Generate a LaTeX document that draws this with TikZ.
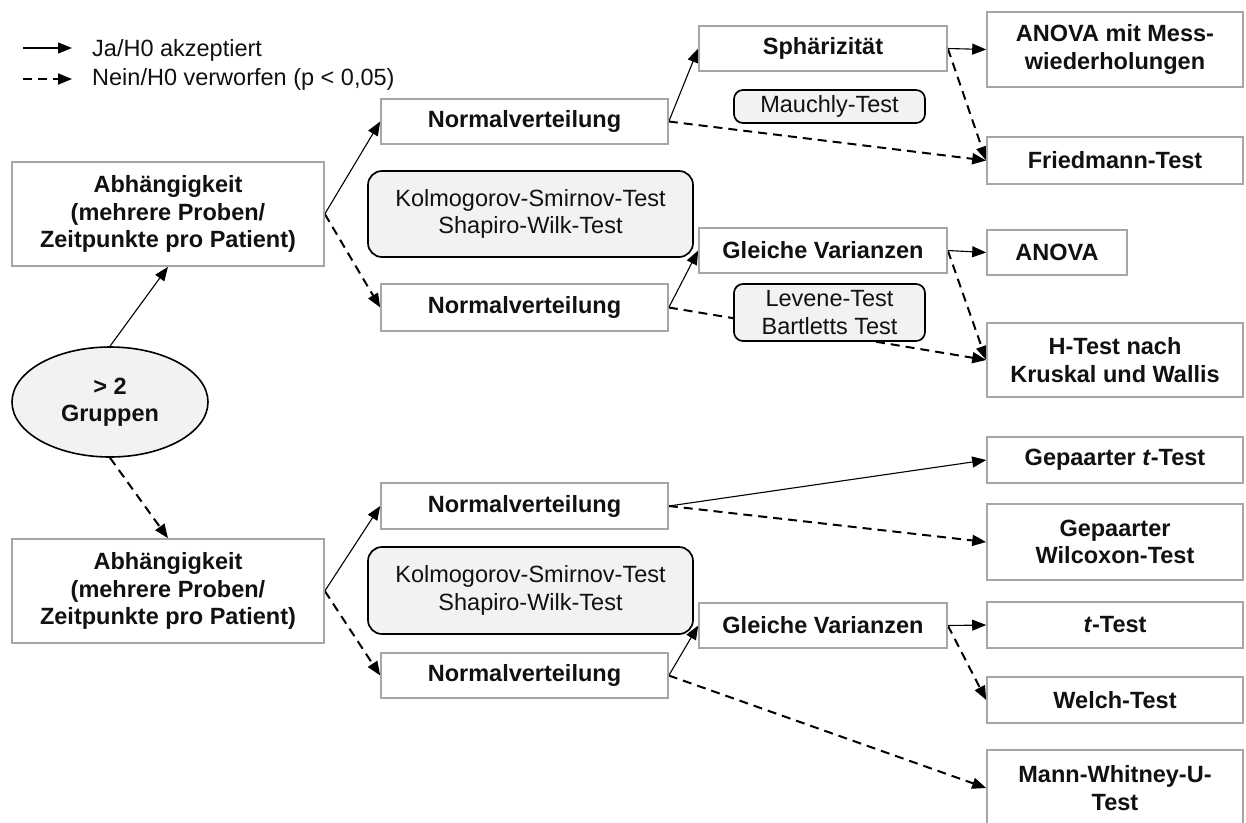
\documentclass[tikz,border=0pt]{standalone}
\usepackage{fontspec}
\setmainfont{Liberation Sans}
\usetikzlibrary{arrows.meta,shapes.geometric,backgrounds}
\definecolor{boxgray}{HTML}{A6A6A6}
\definecolor{lightfill}{HTML}{F2F2F2}
\definecolor{ink}{HTML}{111111}
\tikzset{
  every node/.style={font=\fontsize{23.5}{27.5}\selectfont, text=ink},
  box/.style={draw=boxgray, line width=1.6pt, fill=white, inner sep=0pt, align=center, font=\fontsize{23.5}{27.5}\selectfont\bfseries},
  testbox/.style={draw=black, line width=1.7pt, fill=lightfill, inner sep=0pt, align=center, rounded corners=#1},
  testbox/.default=9pt,
  yes/.style={draw=black, line width=1.1pt, -{Triangle[length=14pt,width=11pt]}},
  no/.style={draw=black, line width=2pt, dash pattern=on 9pt off 6pt, -{Triangle[length=14pt,width=11pt]}},
}
\begin{document}
\begin{tikzpicture}[x=1pt,y=-1pt]
\path[use as bounding box] (0,0) rectangle (1246,822);
\clip (0,0) rectangle (1246,822);

% legend
\coordinate (l1a) at (23,48);
\coordinate (l1b) at (72,48);
\coordinate (l2a) at (23,79);
\coordinate (l2b) at (72,79);
\node[anchor=west, inner sep=0pt] (l1t) at (92,50) {Ja/H0 akzeptiert};
\node[anchor=west, inner sep=0pt] (l2t) at (92,79) {Nein/H0 verworfen (p < 0,05)};

% start
\node[ellipse, draw=black, line width=1.6pt, fill=lightfill, inner sep=0pt,
      minimum width=196pt, minimum height=110pt, align=center,
      font=\fontsize{23.5}{27.5}\selectfont\bfseries] (start) at (110,402) {> 2\\Gruppen};

% level 1
\node[box, minimum width=312pt, minimum height=104pt] (abh1) at (168,214)
  {Abhängigkeit\\(mehrere Proben/\\Zeitpunkte pro Patient)};
\node[box, minimum width=312pt, minimum height=104pt] (abh2) at (168,591)
  {Abhängigkeit\\(mehrere Proben/\\Zeitpunkte pro Patient)};

% level 2
\node[box, minimum width=287pt, minimum height=45pt] (nv1) at (524.5,121.5) {Normalverteilung};
\node[box, minimum width=287pt, minimum height=47pt] (nv2) at (524.5,307.5) {Normalverteilung};
\node[box, minimum width=287pt, minimum height=46pt] (nv3) at (524.5,506) {Normalverteilung};
\node[box, minimum width=287pt, minimum height=45pt] (nv4) at (524.5,675.5) {Normalverteilung};
\node[testbox=14pt, minimum width=325pt, minimum height=86pt] (ks1) at (530.5,214)
  {Kolmogorov-Smirnov-Test\\Shapiro-Wilk-Test};
\node[testbox=14pt, minimum width=325pt, minimum height=87pt] (ks2) at (530.5,590.5)
  {Kolmogorov-Smirnov-Test\\Shapiro-Wilk-Test};

% level 3
\node[box, minimum width=248pt, minimum height=45pt] (sph) at (823,48.5) {Sphärizität};
\node[testbox, minimum width=191pt, minimum height=33pt] (mau) at (829.5,106.5) {Mauchly-Test};
\node[box, minimum width=248pt, minimum height=45pt] (gv1) at (823,250.5) {Gleiche Varianzen};
\node[testbox, minimum width=191pt, minimum height=57pt] (lev) at (829.5,312.5) {Levene-Test\\Bartletts Test};
\node[box, minimum width=248pt, minimum height=45pt] (gv2) at (823,625.5) {Gleiche Varianzen};

% level 4
\node[box, minimum width=256pt, minimum height=75pt] (anm) at (1115,49.5) {ANOVA mit Mess-\\wiederholungen};
\node[box, minimum width=256pt, minimum height=47pt] (fri) at (1115,160.5) {Friedmann-Test};
\node[box, minimum width=140pt, minimum height=45pt] (ano) at (1057,252.5) {ANOVA};
\node[box, minimum width=256pt, minimum height=74pt] (kru) at (1115,360) {H-Test nach\\Kruskal und Wallis};
\node[box, minimum width=256pt, minimum height=46pt] (gpt) at (1115,460) {Gepaarter \textit{t}-Test};
\node[box, minimum width=256pt, minimum height=76pt] (wil) at (1115,542) {Gepaarter\\Wilcoxon-Test};
\node[box, minimum width=256pt, minimum height=46pt] (tt) at (1115,625) {\textit{t}-Test};
\node[box, minimum width=256pt, minimum height=46pt] (wel) at (1115,700) {Welch-Test};
\node[box, minimum width=256pt, minimum height=76pt] (mw) at (1115,788) {Mann-Whitney-U-\\Test};

\begin{scope}[on background layer]
\fill[white] (0,0) rectangle (1246,822);
\draw[yes] (l1a) -- (l1b);
\draw[no] (l2a) -- (l2b);

\draw[yes] (start.north) -- (abh1.south);
\draw[no] (start.south) -- (abh2.north);

\draw[yes] (abh1.east) -- (nv1.west);
\draw[no] (abh1.east) -- (nv2.west);
\draw[yes] (abh2.east) -- (nv3.west);
\draw[no] (abh2.east) -- (nv4.west);

\draw[yes] (nv1.east) -- (sph.west);
\draw[no] (nv1.east) -- (fri.west);
\draw[yes] (sph.east) -- (anm.west);
\draw[no] (sph.east) -- (fri.west);

\draw[yes] (nv2.east) -- (gv1.west);
\draw[no] (nv2.east) -- (kru.west);
\draw[yes] (gv1.east) -- (ano.west);
\draw[no] (gv1.east) -- (kru.west);

\draw[yes] (nv3.east) -- (gpt.west);
\draw[no] (nv3.east) -- (wil.west);

\draw[yes] (nv4.east) -- (gv2.west);
\draw[no] (nv4.east) -- (mw.west);
\draw[yes] (gv2.east) -- (tt.west);
\draw[no] (gv2.east) -- (wel.west);
\end{scope}
\end{tikzpicture}
\end{document}
